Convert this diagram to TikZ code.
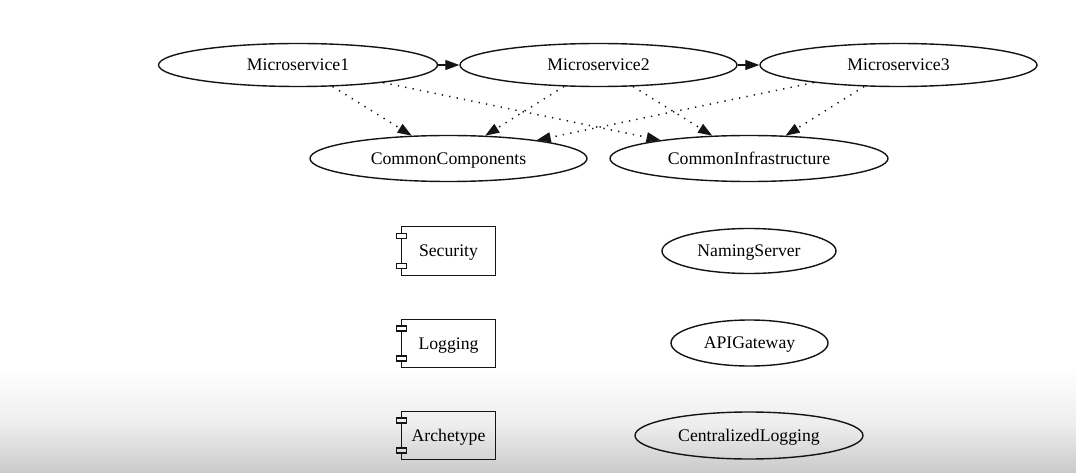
\documentclass[tikz,border=0pt]{standalone}
\usepackage{fontspec}
\setmainfont{Liberation Serif}
\usetikzlibrary{shapes.geometric,arrows.meta}
\definecolor{ink}{HTML}{141414}
\tikzset{
  lbl/.style={text=black,font=\fontsize{17.7}{20}\selectfont,text height=11.7pt,text depth=0pt},
  ell/.style={ellipse,draw=ink,line width=1.4pt,inner sep=0pt,lbl},
  comp/.style={rectangle,inner sep=0pt,minimum width=94pt,minimum height=48pt,lbl},
  solidedge/.style={draw=ink,line width=1.3pt,-{Triangle[length=14pt,width=10pt]}},
  dotedge/.style={draw=ink,line width=1.5pt,dash pattern=on 1.3pt off 6.2pt,-{Triangle[length=14pt,width=10pt]}},
  compline/.style={draw=ink,line width=1.4pt},
}
\newcommand\compdeco[1]{%
  \draw[compline] ([yshift=-17.35pt]#1.west) -- (#1.south west) -- (#1.south east) -- (#1.north east) -- (#1.north west) -- ([yshift=17.35pt]#1.west);
  \draw[compline] ([yshift=-12.65pt]#1.west) -- ([yshift=12.65pt]#1.west);
  \draw[compline] ([xshift=-5pt,yshift=-17.35pt]#1.west) rectangle ([xshift=5pt,yshift=-12.65pt]#1.west);
  \draw[compline] ([xshift=-5pt,yshift=17.35pt]#1.west) rectangle ([xshift=5pt,yshift=12.65pt]#1.west);
}
\begin{document}
\begin{tikzpicture}[x=1pt,y=-1pt]
\useasboundingbox (0,0) rectangle (1076,473);
\fill[white] (0,0) rectangle (1076,473);
\shade[top color=white,bottom color=black!7] (0,368) rectangle (1076,425.2);
\shade[top color=black!7,bottom color=black!21] (0,425) rectangle (1076,473);

\node[ell,minimum width=279pt,minimum height=43pt] (ms1) at (298,65) {Microservice1};
\node[ell,minimum width=277pt,minimum height=43pt] (ms2) at (598.5,65) {Microservice2};
\node[ell,minimum width=277pt,minimum height=43pt] (ms3) at (898.5,65) {Microservice3};
\node[ell,minimum width=277pt,minimum height=46pt] (cc) at (448.5,158.5) {CommonComponents};
\node[ell,minimum width=278pt,minimum height=46pt] (ci) at (749,158.5) {CommonInfrastructure};

\node[comp] (sec) at (448.5,251) {Security};
\node[comp] (log) at (448.5,343.5) {Logging};
\node[comp] (arch) at (448.5,435.5) {Archetype};
\compdeco{sec}
\compdeco{log}
\compdeco{arch}

\node[ell,minimum width=174pt,minimum height=45pt] (ns) at (749,251) {NamingServer};
\node[ell,minimum width=157pt,minimum height=46pt] (api) at (749.5,343) {APIGateway};
\node[ell,minimum width=228pt,minimum height=47pt] (cl) at (749,435.5) {CentralizedLogging};

\draw[solidedge] (ms1) -- (ms2);
\draw[solidedge] (ms2) -- (ms3);
\draw[dotedge] (ms1) -- (cc);
\draw[dotedge] (ms1) -- (ci);
\draw[dotedge] (ms2) -- (cc);
\draw[dotedge] (ms2) -- (ci);
\draw[dotedge] (ms3) -- (cc);
\draw[dotedge] (ms3) -- (ci);
\end{tikzpicture}
\end{document}
